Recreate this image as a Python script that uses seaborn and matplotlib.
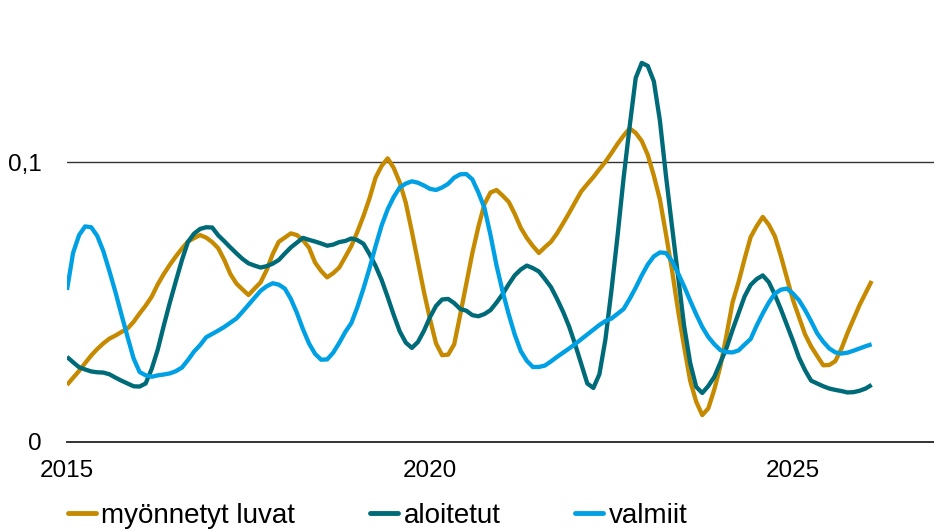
import numpy as np
import pandas as pd
import matplotlib
matplotlib.use("Agg")
import matplotlib.pyplot as plt
from matplotlib.ticker import FixedLocator, MultipleLocator, FuncFormatter
import seaborn as sns

# Monthly values (x 1/1000), Jan 2015 - Feb 2026
luvat = [20.4, 22.9, 25.4, 28.2, 30.9, 33.2, 35.2, 36.9, 38.0, 39.3,
         40.5, 42.9, 45.9, 48.7, 51.9, 56.3, 60.0, 63.3, 66.3, 69.1,
         71.6, 72.8, 73.9, 73.0, 71.4, 69.2, 65.0, 60.0, 56.6, 54.5,
         52.5, 54.8, 57.0, 61.4, 67.1, 71.5, 73.0, 74.5, 73.9, 72.1,
         69.4, 64.1, 61.1, 58.8, 60.3, 62.3, 66.1, 70.0, 75.1, 80.7,
         87.0, 94.4, 98.6, 101.3, 97.9, 92.7, 85.4, 75.2, 64.5, 53.6,
         43.9, 35.2, 31.0, 31.2, 34.9, 45.5, 56.6, 67.5, 76.9, 85.0,
         89.1, 90.0, 88.0, 85.8, 81.5, 76.5, 72.9, 70.0, 67.5, 69.6,
         71.5, 74.5, 78.1, 81.8, 85.7, 89.5, 92.1, 94.6, 97.4, 100.1,
         103.2, 106.5, 109.4, 112.0, 110.4, 107.5, 102.5, 95.1, 86.6, 74.3,
         61.4, 47.0, 34.1, 21.9, 14.4, 9.6, 12.0, 18.8, 27.1, 38.0,
         49.8, 57.1, 65.4, 73.2, 77.1, 80.4, 77.6, 73.5, 66.4, 58.6,
         50.7, 44.5, 38.4, 34.1, 30.7, 27.4, 27.5, 28.9, 33.3, 38.9,
         43.9, 48.9, 53.2, 57.5]

aloitetut = [30.4, 28.5, 26.7, 25.9, 25.2, 24.9, 24.8, 24.2, 23.0, 21.9,
             20.9, 19.9, 19.8, 20.9, 26.1, 33.0, 41.6, 49.8, 57.5, 65.0,
             71.5, 74.4, 76.1, 76.7, 76.6, 73.8, 71.7, 69.5, 67.4, 65.4,
             63.8, 63.0, 62.3, 62.8, 63.7, 65.0, 67.3, 69.5, 71.2, 72.9,
             72.2, 71.6, 70.9, 70.1, 70.5, 71.4, 71.8, 72.7, 72.1, 70.8,
             67.1, 62.9, 57.9, 51.8, 45.4, 39.5, 35.5, 33.6, 35.7, 39.7,
             44.6, 48.6, 50.9, 51.1, 49.6, 47.5, 46.9, 45.3, 44.9, 45.7,
             47.1, 49.8, 52.8, 56.3, 59.5, 61.6, 63.0, 62.1, 60.9, 58.2,
             55.3, 51.1, 46.5, 41.2, 34.8, 27.8, 20.9, 19.3, 24.2, 36.7,
             54.3, 73.6, 94.3, 112.7, 130.0, 135.4, 134.3, 128.8, 114.8, 95.1,
             77.0, 59.3, 41.5, 28.3, 19.7, 17.5, 20.0, 23.3, 28.4, 33.5,
             40.0, 46.0, 52.0, 56.1, 58.2, 59.5, 57.1, 52.6, 47.4, 41.8,
             36.1, 30.1, 25.6, 21.9, 20.9, 19.9, 19.1, 18.6, 18.2, 17.7,
             17.8, 18.3, 19.1, 20.4]

valmiit = [54.3, 67.5, 73.9, 77.0, 76.7, 73.6, 68.2, 61.1, 53.6, 45.5,
           37.6, 29.9, 25.0, 23.8, 23.3, 23.8, 24.1, 24.5, 25.3, 26.6,
           29.3, 32.3, 34.6, 37.4, 38.6, 39.8, 41.1, 42.6, 44.1, 46.5,
           49.0, 51.5, 54.0, 55.6, 56.7, 56.2, 54.8, 51.1, 46.1, 40.3,
           35.2, 31.5, 29.4, 29.5, 31.9, 35.4, 39.3, 42.5, 48.2, 54.8,
           62.0, 69.9, 77.3, 83.1, 87.5, 90.9, 92.3, 93.1, 92.6, 91.6,
           90.4, 90.0, 90.9, 92.2, 94.4, 95.6, 95.7, 93.8, 89.1, 83.6,
           73.9, 63.0, 53.8, 45.7, 38.4, 32.5, 29.0, 26.8, 26.8, 27.3,
           28.8, 30.4, 31.9, 33.4, 35.0, 36.7, 38.4, 40.1, 41.8, 43.2,
           44.1, 45.8, 47.5, 51.1, 55.1, 59.5, 63.4, 66.3, 67.7, 67.5,
           64.6, 60.3, 55.6, 50.5, 45.6, 41.1, 37.5, 34.9, 32.8, 32.1,
           32.0, 32.7, 34.8, 36.8, 41.6, 45.9, 49.8, 53.0, 54.4, 54.8,
           53.0, 50.6, 47.1, 43.1, 38.8, 35.8, 33.4, 32.0, 31.6, 31.9,
           32.6, 33.4, 34.2, 34.9]

sarjat = ["myönnetyt luvat", "aloitetut", "valmiit"]
varit = ["#C68A00", "#006B78", "#00A0E4"]

vuosi = 2015 + np.arange(len(luvat)) / 12

df = pd.concat([
    pd.DataFrame({"vuosi": vuosi, "arvo": np.array(v) / 1000, "sarja": s})
    for s, v in zip(sarjat, [luvat, aloitetut, valmiit])
])

sns.set_style("white")
plt.rcParams["font.family"] = ["Liberation Sans", "DejaVu Sans"]
plt.rcParams["text.color"] = "black"
plt.rcParams["xtick.color"] = "black"
plt.rcParams["ytick.color"] = "black"

fig = plt.figure(figsize=(9.34, 5.31), dpi=100)
ax = fig.add_axes([67 / 934, 89 / 531, 867 / 934, 442 / 531])

sns.lineplot(data=df, x="vuosi", y="arvo", hue="sarja", hue_order=sarjat,
             palette=varit, linewidth=3.1, ax=ax, legend=False)
for ln in ax.lines:
    ln.set_solid_joinstyle("round")
    ln.set_solid_capstyle("butt")

ax.set_xlim(2015, 2015 + 867 / 72.6)
ax.set_ylim(0, 442 / 2800)
ax.set_xlabel("")
ax.set_ylabel("")

# axes look
for side in ["top", "right", "left"]:
    ax.spines[side].set_visible(False)
ax.spines["bottom"].set_color("#222222")
ax.spines["bottom"].set_linewidth(1.3)

ax.xaxis.set_major_locator(FixedLocator([2015, 2020, 2025]))
ax.xaxis.set_minor_locator(MultipleLocator(1))
ax.xaxis.set_major_formatter(FuncFormatter(lambda x, p: f"{int(round(x))}"))
ax.tick_params(axis="x", which="major", direction="in", length=8, width=1.2,
               color="#222222", pad=13, labelsize=17.5)
ax.tick_params(axis="x", which="minor", direction="in", length=6, width=1.2,
               color="#222222")

ax.yaxis.set_major_locator(FixedLocator([0, 0.1]))
ax.yaxis.set_major_formatter(FuncFormatter(lambda y, p: f"{y:g}".replace(".", ",")))
ax.tick_params(axis="y", length=0, pad=18, labelsize=17.5)
ax.grid(False)
ax.axhline(0.1, color="#333333", linewidth=1.0, zorder=0)

# legend below the axis
handles = [plt.Line2D([], [], color=c, linewidth=3.5) for c in varit]
ax.legend(handles, sarjat, loc="center left", bbox_to_anchor=(68 / 934, 15 / 531),
          bbox_transform=fig.transFigure, ncol=3, frameon=False, borderpad=0,
          borderaxespad=0, handlelength=1.0, handletextpad=0.2,
          columnspacing=2.7, fontsize=20)

fig.savefig("out.png", dpi=100)
